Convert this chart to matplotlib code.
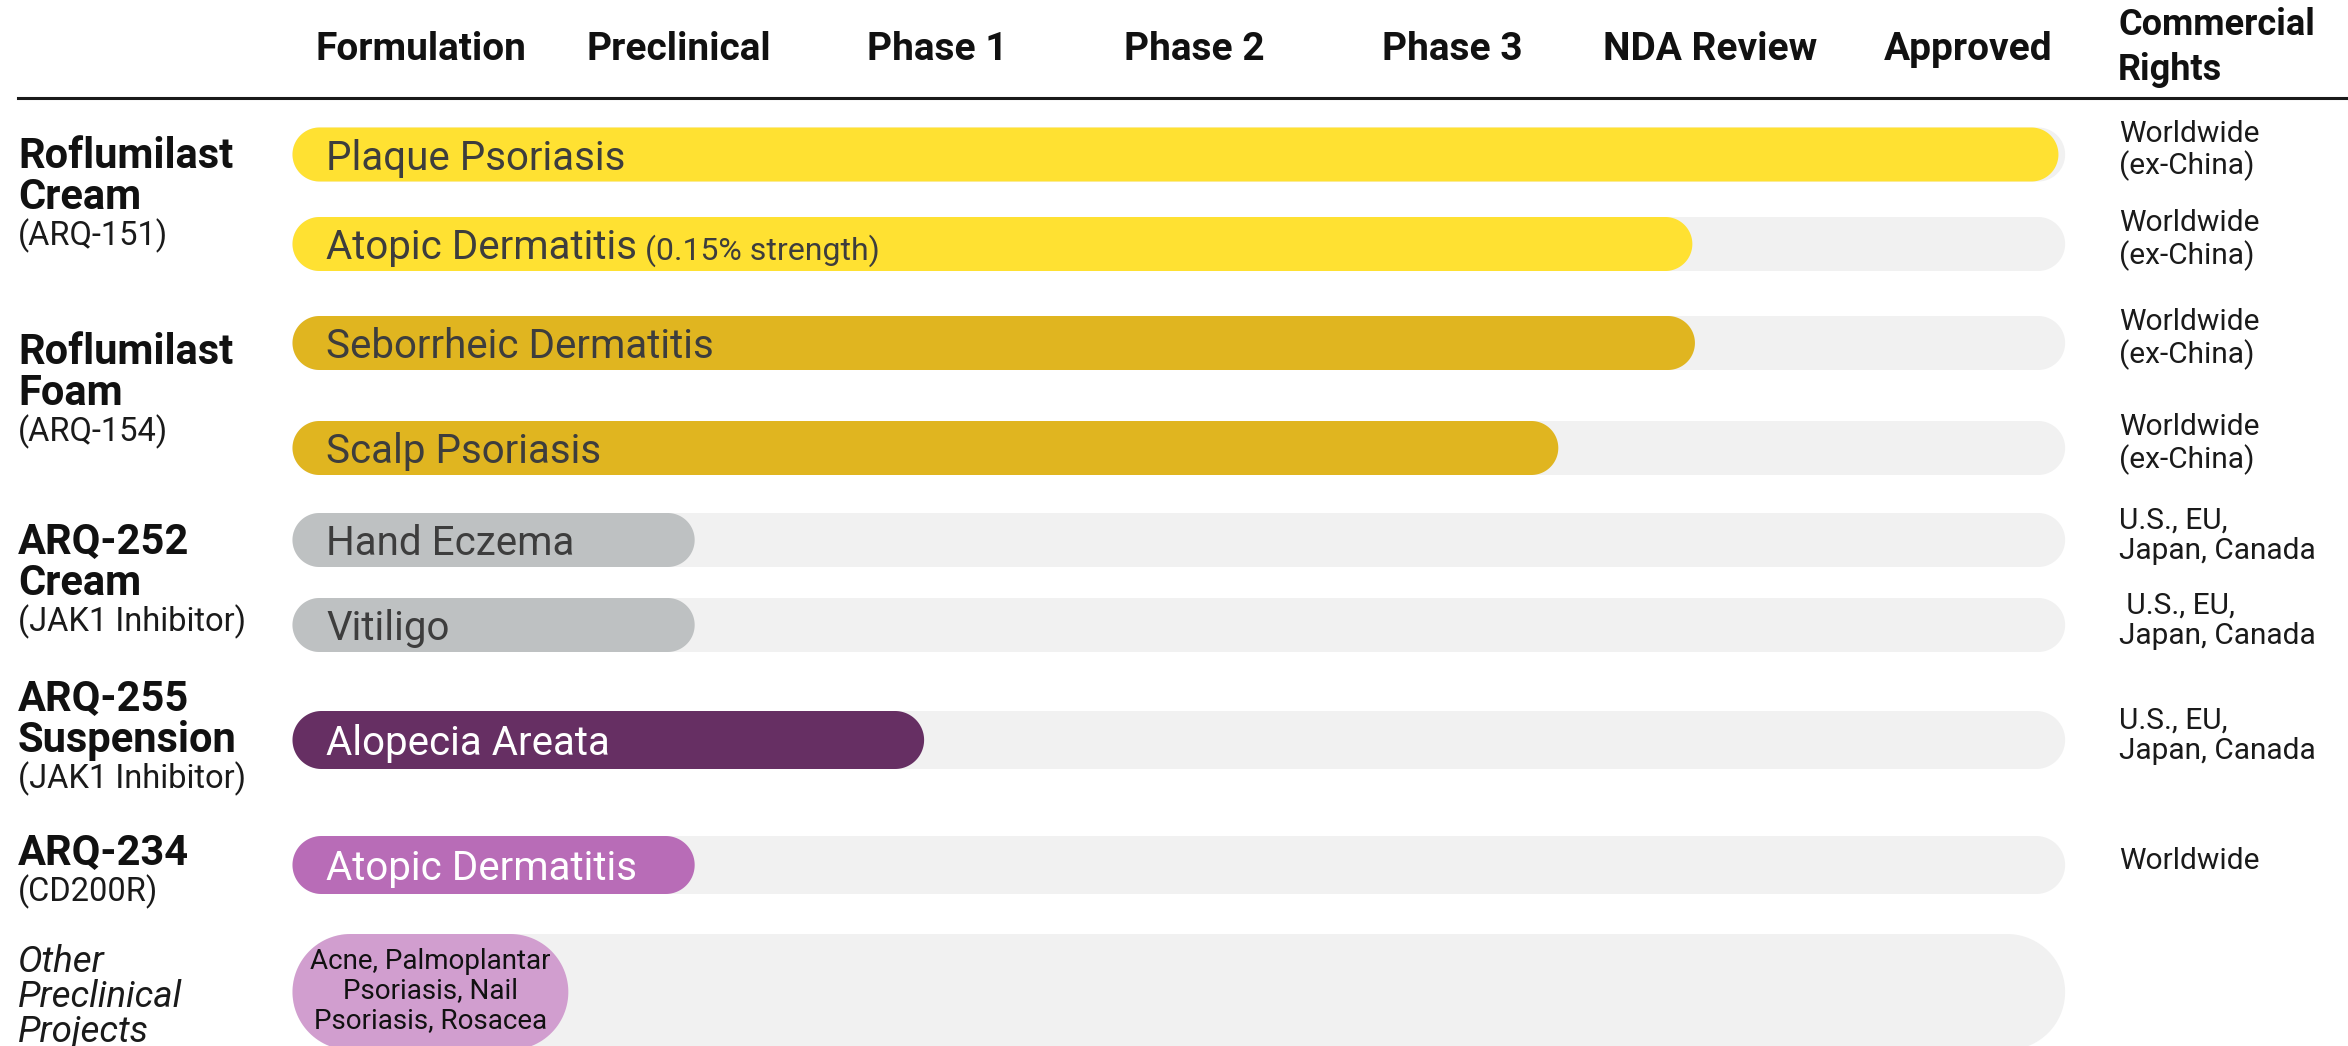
import numpy as np
import matplotlib.pyplot as plt
import matplotlib.transforms as mtransforms
from matplotlib.patches import Polygon

plt.rcParams['font.family'] = ['Roboto', 'DejaVu Sans']

# ---- data ----
stages = ['Formulation', 'Preclinical', 'Phase 1', 'Phase 2', 'Phase 3', 'NDA Review', 'Approved']

indications = ['Plaque Psoriasis', 'Atopic Dermatitis', 'Seborrheic Dermatitis', 'Scalp Psoriasis',
               'Hand Eczema', 'Vitiligo', 'Alopecia Areata', 'Atopic Dermatitis',
               'Acne, Palmoplantar\nPsoriasis, Nail\nPsoriasis, Rosacea']
notes = ['', '(0.15% strength)', '', '', '', '', '', '', '']
# progress measured in pipeline stages (0 = start of Formulation)
progress = [6.85, 5.43, 5.44, 4.91, 1.56, 1.56, 2.45, 1.56, 1.07]
track_end = 6.876

rights = ['Worldwide\n(ex-China)', 'Worldwide\n(ex-China)', 'Worldwide\n(ex-China)', 'Worldwide\n(ex-China)',
          'U.S., EU,\nJapan, Canada', ' U.S., EU,\nJapan, Canada', 'U.S., EU,\nJapan, Canada',
          'Worldwide', '']

programs = ['Roflumilast\nCream', 'Roflumilast\nFoam', 'ARQ-252\nCream', 'ARQ-255\nSuspension', 'ARQ-234']
program_subs = ['(ARQ-151)', '(ARQ-154)', '(JAK1 Inhibitor)', '(JAK1 Inhibitor)', '(CD200R)']
other_label = 'Other\nPreclinical\nProjects'

bar_colors = ['#FFE132', '#FFE132', '#E0B520', '#E0B520', '#BEC1C2', '#BEC1C2',
              '#662F63', '#B86CB7', '#D19ECF']
text_colors = ['#3d3d3d'] * 6 + ['white', 'white', '#111111']
TRACK = '#F1F1F1'

# ---- layout (pixels) ----
W, H = 2348, 1046
BAR_LEFT = 292.5      # px where the pipeline starts
STAGE_PX = 257.8      # px per stage
row_y = [154.5, 244, 343, 448, 540, 625, 740, 865, 992]
bar_h = [54, 54, 54, 54, 54, 54, 58, 58, 116]
program_y = [168, 364, 554, 711, 865]


def pill(x0, x1, yc, h, **kw):
    # rounded bar with semicircular ends; x in stage units, y/h in pixels
    r = h / 2
    rx = r / STAGE_PX
    t = np.linspace(-np.pi / 2, np.pi / 2, 60)
    right = np.column_stack([x1 - rx + rx * np.cos(t), yc + r * np.sin(t)])
    left = np.column_stack([x0 + rx - rx * np.cos(t), yc - r * np.sin(t)])
    return Polygon(np.vstack([right, left]), closed=True, **kw)


fig = plt.figure(figsize=(W / 100, H / 100), dpi=100)
ax = fig.add_axes([0, 0, 1, 1])
ax.set_xlim(-BAR_LEFT / STAGE_PX, (W - BAR_LEFT) / STAGE_PX)
ax.set_ylim(H, 0)
ax.axis('off')
blend = mtransforms.blended_transform_factory(ax.transAxes, ax.transData)

# header
for i, s in enumerate(stages):
    ax.text(i + 0.5, 60, s, ha='center', va='baseline', fontsize=28, fontweight='bold', color='#111111')
ax.text(2118 / W, 35, 'Commercial', transform=blend, ha='left', va='baseline',
        fontsize=26, fontweight='bold', color='#111111')
ax.text(2118 / W, 80, 'Rights', transform=blend, ha='left', va='baseline',
        fontsize=26, fontweight='bold', color='#111111')
ax.axhline(98, xmin=18 / W, xmax=1, color='#1a1a1a', lw=2.2)

# bars
for i, (val, y, h) in enumerate(zip(progress, row_y, bar_h)):
    ax.add_patch(pill(0, track_end, y, h, fc=TRACK, ec='none'))
    ax.add_patch(pill(0, val, y, h, fc=bar_colors[i], ec='none'))
    if '\n' in indications[i]:
        ax.text(val / 2, y - 1, indications[i], ha='center', va='center', fontsize=20,
                color=text_colors[i], linespacing=1.13)
    else:
        t = ax.text(0.13, y + 15, indications[i], ha='left', va='baseline', fontsize=29,
                    color=text_colors[i])
        if notes[i]:
            ax.annotate(notes[i], xy=(1, 0), xycoords=t, xytext=(6, 0), textcoords='offset points',
                        ha='left', va='bottom', fontsize=23, color=text_colors[i])
    if rights[i]:
        ax.text(2119 / W, y - 4, rights[i], transform=blend, ha='left', va='center',
                fontsize=21.5, color='#1a1a1a', linespacing=1.1)

# program labels
for title, sub, yb in zip(programs, program_subs, program_y):
    lines = title.split('\n')
    for k, line in enumerate(lines):
        ax.text(18 / W, yb + k * 41, line, transform=blend, ha='left', va='baseline',
                fontsize=30, fontweight='bold', color='#111111')
    ax.text(18 / W, yb + (len(lines) - 1) * 41 + 36, sub, transform=blend, ha='left',
            va='baseline', fontsize=23.5, color='#1a1a1a')

for k, line in enumerate(other_label.split('\n')):
    ax.text(18 / W, 972 + k * 35, line, transform=blend, ha='left', va='baseline',
            fontsize=26.5, fontstyle='italic', color='#1a1a1a')

fig.savefig('out.png', dpi=100)
plt.close()
